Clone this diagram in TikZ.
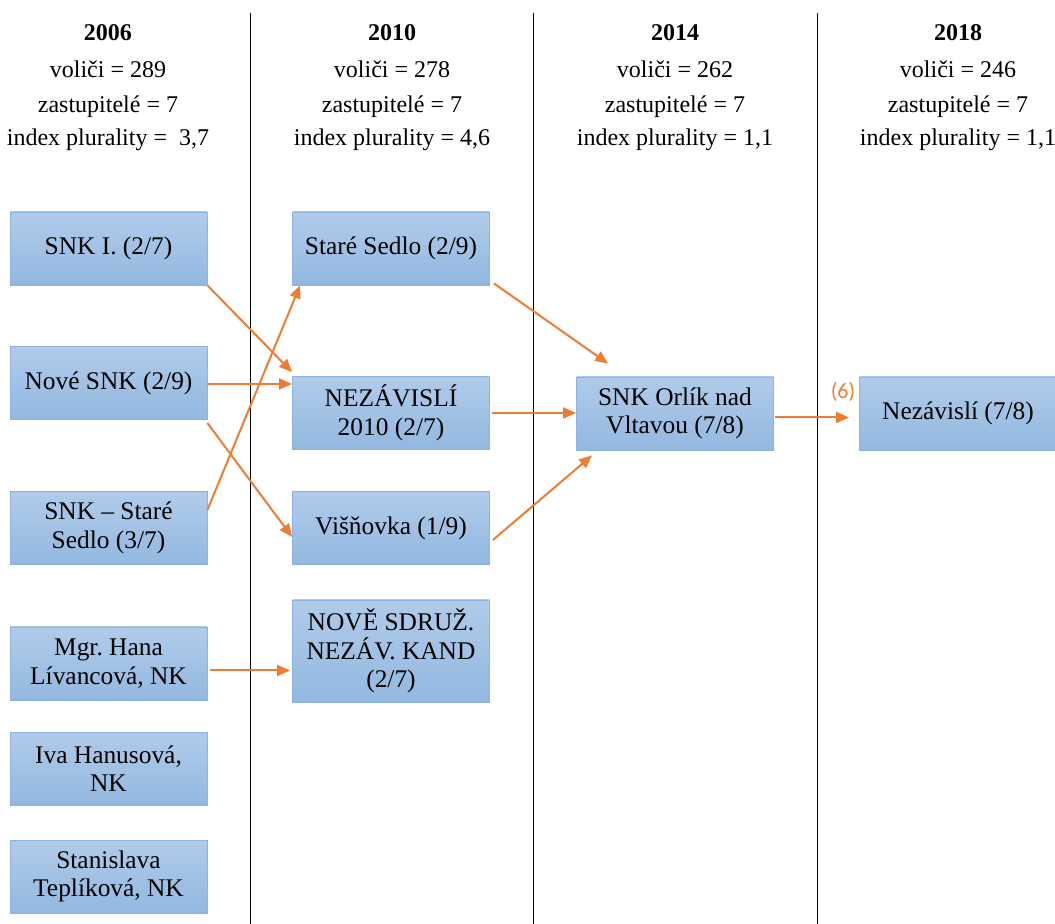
\documentclass[tikz,border=0pt]{standalone}
\usepackage{fontspec}
\setmainfont{Liberation Serif}
\newfontfamily\labelfont{Carlito}
\usetikzlibrary{arrows.meta}

\definecolor{boxtop}{HTML}{B0CBEA}
\definecolor{boxbot}{HTML}{93B8E0}
\definecolor{boxline}{HTML}{8DB3E2}
\definecolor{flow}{HTML}{ED7D31}

\begin{document}
\begin{tikzpicture}[x=0.5pt,y=-0.5pt]
	\tikzstyle{party} = [ draw=boxline, rectangle, top color=boxtop, bottom color=boxbot, minimum width=98.5pt, minimum height=36.5pt, align=center, inner sep=0pt, font={\fontsize{12.7}{14.2}\selectfont\frenchspacing}];
	\tikzstyle{head} = [ align=center, font={\fontsize{12}{14}\selectfont\frenchspacing}];
	\tikzstyle{divider} = [ thin, black];
	\tikzstyle{move} = [ -{Triangle[length=6.5pt,width=5.5pt]}, line width=1pt, flow];

	\useasboundingbox (0,0) rectangle (1055,924);

	% columns
	\foreach \xl in {250, 533, 817} {
		\draw[divider] (\xl,13) -- (\xl,924);
	}

	\foreach \yr/\vol/\ip/\xc in {2006/289/{\ 3,7}/108, 2010/278/{4,6}/392, 2014/262/{1,1}/675, 2018/246/{1,1}/958} {
		\node[head] (h\yr) at (\xc,88) {\textbf{\yr}\\[4.5pt] voliči = \vol\\[3.5pt] zastupitelé = 7\\[2.5pt] index plurality = \ip};
	}

	% 2006
	\node[party] (snk1) at (108.5,248.5) {SNK I. (2/7)};
	\node[party] (nsnk) at (108.5,383) {Nové SNK (2/9)};
	\node[party] (snkss) at (108.5,528) {SNK -- Staré\\ Sedlo (3/7)};
	\node[party] (hana) at (108.5,663.5) {Mgr. Hana\\ Lívancová, NK};
	\node[party] (iva) at (108.5,768.5) {Iva Hanusová,\\ NK};
	\node[party] (tepl) at (108.5,876.5) {Stanislava\\ Teplíková, NK};

	% 2010
	\node[party] (ssedlo) at (391,248.5) {Staré Sedlo (2/9)};
	\node[party] (nez) at (391,413) {NEZÁVISLÍ\\ 2010 (2/7)};
	\node[party] (visn) at (391,528) {Višňovka (1/9)};
	\node[party, minimum height=51pt] (nsdr) at (391,651) {NOVĚ SDRUŽ.\\ NEZÁV. KAND\\ (2/7)};

	% 2014, 2018
	\node[party] (orlik) at (675,413.5) {SNK Orlík nad\\ Vltavou (7/8)};
	\node[party] (nzv) at (958,413.5) {Nezávislí (7/8)};
	\node[text=flow, font={\labelfont\fontsize{11}{13}\selectfont}] (six) at (843,392) {(6)};

	\draw[move] (snk1.south east) -- ([yshift=2pt]nez.north west);
	\draw[move] ([yshift=-0.5pt]nsnk.east) -- ([yshift=-0.5pt]nsnk.east -| nez.west);
	\draw[move] ([yshift=-20pt]nsnk.east) -- ([yshift=-4.5pt]visn.west);
	\draw[move] ([yshift=9pt]snkss.east) -- ([xshift=4pt]ssedlo.south west);
	\draw[move] ([shift={(1.5pt,-3.5pt)}]hana.east) -- ([shift={(-1pt,-3.5pt)}]hana.east -| nsdr.west);
	\draw[move] ([shift={(2pt,1pt)}]ssedlo.south east) -- ([shift={(16pt,6.5pt)}]orlik.north west);
	\draw[move] ([xshift=1pt]nez.east) -- (nez.east -| orlik.west);
	\draw[move] ([shift={(1.5pt,-6pt)}]visn.east) -- ([shift={(8pt,-2.5pt)}]orlik.south west);
	\draw[move] ([shift={(0.5pt,-2pt)}]orlik.east) -- ([shift={(-5pt,-2pt)}]orlik.east -| nzv.west);
\end{tikzpicture}
\end{document}
